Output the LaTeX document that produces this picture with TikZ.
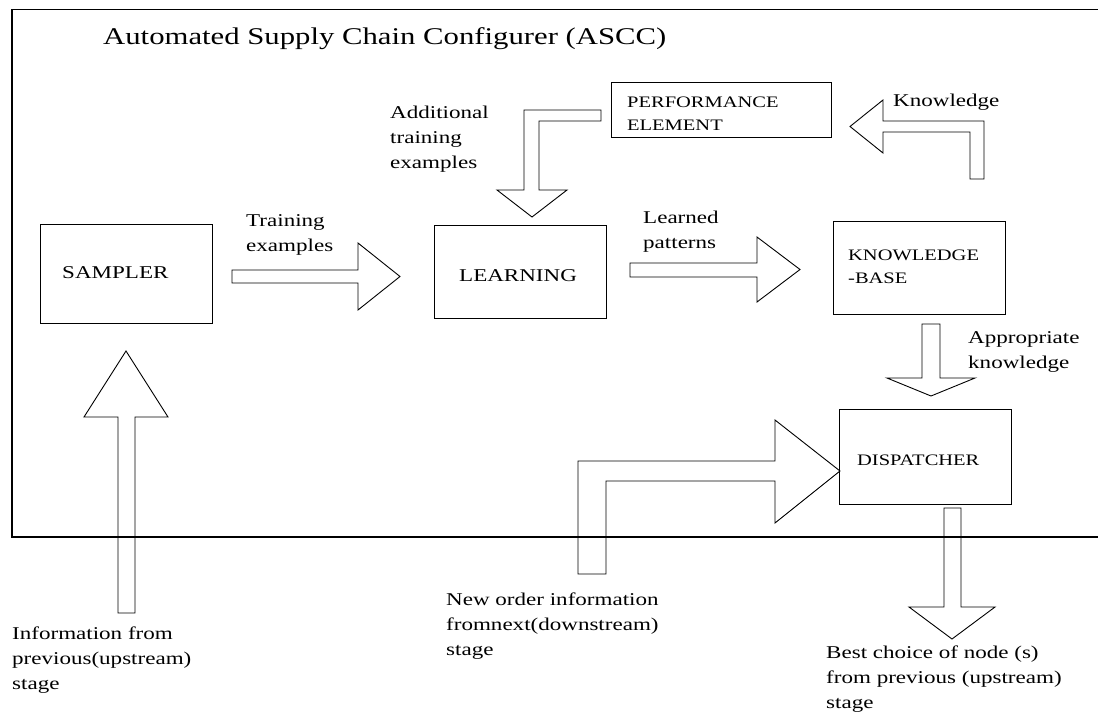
\documentclass[tikz,border=0pt]{standalone}
\usepackage{fontspec}
\setmainfont{Liberation Serif}[FakeStretch=1.28]
\begin{document}
\begin{tikzpicture}[x=1pt,y=-1pt,
  boxnode/.style={draw, line width=0.9pt, inner sep=0pt, anchor=north west},
  barrow/.style={draw, line width=0.9pt, line join=miter},
  frameline/.style={draw, line width=1.3pt},
  lbl/.style={inner sep=0pt, anchor=north west, align=left, font=\fontsize{18}{25}\selectfont},
  biglbl/.style={inner sep=0pt, anchor=west, font=\fontsize{18}{25}\selectfont},
  smalllbl/.style={inner sep=0pt, anchor=north west, align=left, font=\fontsize{16}{23}\selectfont},
  titlelbl/.style={inner sep=0pt, anchor=north west, font=\fontsize{24}{30}\selectfont}
]
\useasboundingbox (0,0) rectangle (1098,713);

% outer frame (open at the right)
\draw[frameline] (1098,9.5) -- (12,9.5) -- (12,537) -- (1098,537);
\node[titlelbl] (title) at (103,27) {Automated Supply Chain Configurer (ASCC)};

% boxes
\node[boxnode, minimum width=172pt, minimum height=99pt] (sampler) at (40,224) {};
\node[boxnode, minimum width=172pt, minimum height=93pt] (learning) at (434,225) {};
\node[boxnode, minimum width=220pt, minimum height=55pt] (perf) at (611,82) {};
\node[boxnode, minimum width=172pt, minimum height=93pt] (kb) at (833,221) {};
\node[boxnode, minimum width=172pt, minimum height=95pt] (disp) at (839,409) {};

% box texts
\node[biglbl] (samplertxt) at (62,273) {SAMPLER};
\node[biglbl] (learningtxt) at (459,276) {LEARNING};
\node[smalllbl] (perftxt) at (627,97) {PERFORMANCE\\ELEMENT};
\node[smalllbl] (kbtxt) at (848,249.5) {KNOWLEDGE\\-BASE};
\node[inner sep=0pt, anchor=west, font=\fontsize{16}{23}\selectfont] (disptxt) at (857,460) {DISPATCHER};

% block arrows
% training examples
\draw[barrow] (232,270) -- (358,270) -- (358,243) -- (400,276.5) -- (358,310) -- (358,283) -- (232,283) -- cycle;
% learned patterns
\draw[barrow] (630,263) -- (757,263) -- (757,237) -- (800,269.5) -- (757,302) -- (757,277) -- (630,277) -- cycle;
% additional training examples
\draw[barrow] (601,110) -- (524,110) -- (524,190) -- (497,190) -- (532,217) -- (567,190) -- (539,190) -- (539,121) -- (601,121) -- cycle;
% knowledge
\draw[barrow] (970,179) -- (984,179) -- (984,121) -- (883,121) -- (883,100) -- (850,126.5) -- (883,153) -- (883,132) -- (970,132) -- cycle;
% appropriate knowledge
\draw[barrow] (922,324) -- (940,324) -- (940,378) -- (975,378) -- (931,396) -- (887,378) -- (922,378) -- cycle;
% best choice
\draw[barrow] (944,508) -- (961,508) -- (961,607) -- (995,607) -- (952,639) -- (909,607) -- (944,607) -- cycle;
% information from previous stage
\draw[barrow] (118,613) -- (135,613) -- (135,417) -- (168,417) -- (126,351) -- (84,417) -- (118,417) -- cycle;
% new order information
\draw[barrow] (578,574) -- (578,461) -- (775,461) -- (775,420) -- (840,471) -- (775,523) -- (775,481) -- (606,481) -- (606,574) -- cycle;

% labels
\node[lbl] (trainlbl) at (246,214) {Training\\examples};
\node[lbl] (learnedlbl) at (643,211) {Learned\\patterns};
\node[lbl] (addlbl) at (390,106) {Additional\\training\\examples};
\node[lbl] (knowlbl) at (893,94) {Knowledge};
\node[lbl] (applbl) at (968,331) {Appropriate\\knowledge};
\node[lbl] (infolbl) at (12,627) {Information from\\previous(upstream)\\stage};
\node[lbl] (neworderlbl) at (446,593) {New order information\\fromnext(downstream)\\stage};
\node[lbl] (bestlbl) at (826,646) {Best choice of node (s)\\from previous (upstream)\\stage};
\end{tikzpicture}
\end{document}
